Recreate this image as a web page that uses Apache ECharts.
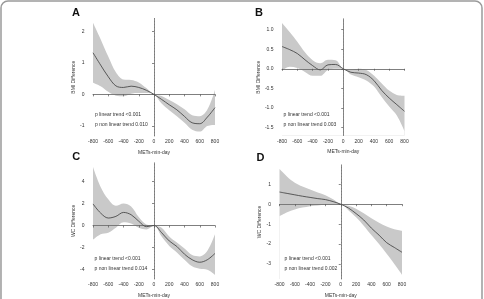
<!DOCTYPE html>
<html>
<head>
<meta charset="utf-8">
<script src="https://cdn.jsdelivr.net/npm/echarts@6/dist/echarts.min.js"></script>
<style>
html, body { margin: 0; padding: 0; background: #fff; }
#main { width: 484px; height: 299px; }
</style>
</head>
<body>
<div id="main"></div>
<script>
// METs-min-day grid, same for all four panels
const xs = [-800, -700, -600, -500, -400, -300, -200, -100, 0, 100, 200, 300, 400, 500, 600, 700, 800];

// A: BMI difference
const aFit = [1.32, 0.93, 0.56, 0.27, 0.22, 0.26, 0.22, 0.13, 0, -0.16, -0.33, -0.49, -0.7, -0.9, -0.93, -0.72, -0.42];
const aLow = [0.37, 0.26, 0.08, -0.04, -0.06, 0.02, 0.04, 0.04, 0, -0.29, -0.5, -0.69, -0.9, -1.12, -1.18, -1.0, -0.97];
const aUp = [2.27, 1.75, 1.2, 0.7, 0.47, 0.46, 0.38, 0.2, 0, -0.05, -0.18, -0.31, -0.47, -0.66, -0.69, -0.48, 0.14];

// B: BMI difference
const bFit = [0.57, 0.49, 0.39, 0.23, 0.08, -0.03, 0.1, 0.11, 0, -0.09, -0.11, -0.15, -0.3, -0.55, -0.75, -0.92, -1.09];
const bLow = [-0.05, 0.05, 0.02, -0.08, -0.18, -0.18, -0.03, 0.0, 0, -0.15, -0.22, -0.3, -0.45, -0.72, -0.97, -1.2, -1.6];
const bUp = [1.17, 0.94, 0.69, 0.42, 0.22, 0.14, 0.23, 0.22, 0, -0.03, 0.0, -0.03, -0.17, -0.37, -0.56, -0.67, -0.69];

// C: WC difference
const cFit = [1.96, 1.13, 0.68, 0.83, 1.19, 0.98, 0.39, -0.1, 0, -0.65, -1.4, -1.9, -2.6, -3.1, -3.33, -3.1, -2.53];
const cLow = [-1.3, -0.8, -0.65, -0.2, 0.3, 0.18, -0.2, -0.36, 0, -1.0, -1.85, -2.44, -3.1, -3.7, -3.93, -4.0, -4.46];
const cUp = [5.3, 3.5, 2.38, 1.79, 2.0, 1.73, 0.77, 0.1, 0, -0.2, -1.0, -1.55, -2.08, -2.68, -2.8, -2.29, -0.8];

// D: WC difference
const dFit = [0.61, 0.54, 0.47, 0.4, 0.34, 0.28, 0.23, 0.13, 0, -0.19, -0.47, -0.79, -1.2, -1.55, -1.93, -2.17, -2.41];
const dLow = [-0.6, -0.4, -0.26, -0.17, -0.1, -0.06, -0.03, -0.01, 0, -0.3, -0.66, -1.08, -1.55, -2.0, -2.49, -3.0, -3.54];
const dUp = [1.76, 1.38, 1.08, 0.89, 0.74, 0.59, 0.45, 0.25, 0, -0.08, -0.23, -0.46, -0.71, -0.93, -1.12, -1.25, -1.33];

const yTicksA = [-1, 0, 1, 2];
const yTicksB = [-1.5, -1.0, -0.5, 0.0, 0.5, 1.0];
const yTicksC = [-4, -2, 0, 2, 4];
const yTicksD = [-3, -2, -1, 0, 1, 2];

const FONT = 'Liberation Sans';
const chart = echarts.init(document.getElementById('main'), null, { renderer: 'canvas' });

const panels = [
  { tag: 'A', fit: aFit, low: aLow, up: aUp, ticks: yTicksA, yName: 'BMI Difference', fmt: v => String(v),
    grid: { left: 93, top: 18.4, width: 122, height: 117.6 }, yMin: -1.32, yMax: 2.41,
    label: [76, 13.3], p: [95, 114.3], pv: 'p non linear trend 0.010' },
  { tag: 'B', fit: bFit, low: bLow, up: bUp, ticks: yTicksB, yName: 'BMI Difference', fmt: v => v.toFixed(1),
    grid: { left: 282, top: 18.8, width: 122.5, height: 116.7 }, yMin: -1.71, yMax: 1.28,
    label: [259, 12.5], p: [283.5, 114.3], pv: 'p non linear trend 0.003' },
  { tag: 'C', fit: cFit, low: cLow, up: cUp, ticks: yTicksC, yName: 'WC Difference', fmt: v => String(v),
    grid: { left: 93, top: 162.8, width: 122, height: 117.6 }, yMin: -4.85, yMax: 5.69,
    label: [76.3, 157.3], p: [94.5, 259], pv: 'p non linear trend 0.014' },
  { tag: 'D', fit: dFit, low: dLow, up: dUp, ticks: yTicksD, yName: 'WC Difference', fmt: v => String(v),
    grid: { left: 279.5, top: 164.9, width: 122.5, height: 117.9 }, yMin: -3.75, yMax: 1.97,
    label: [260.5, 157.5], p: [284.5, 259], pv: 'p non linear trend 0.002' }
];

const axisColor = '#555';
const SMOOTH = 0.35;
const grids = [], xAxes = [], yAxes = [], series = [], graphics = [];

// outer rounded frame
graphics.push({
  type: 'rect', shape: { x: 1, y: 1, width: 481, height: 330, r: 7 }, z: 100,
  style: { fill: 'none', stroke: '#9a9a9a', lineWidth: 1.5 }, silent: true
});

panels.forEach((p, i) => {
  grids.push(Object.assign({ containLabel: false }, p.grid));
  xAxes.push({
    type: 'value', gridIndex: i, min: -800, max: 800, interval: 200, z: 10,
    name: 'METs-min-day', nameLocation: 'middle', nameGap: 14,
    nameTextStyle: { fontFamily: FONT, fontSize: 5, color: '#333' },
    axisLine: { lineStyle: { color: axisColor, width: 0.7 } },
    axisTick: { length: 2, lineStyle: { color: axisColor, width: 0.7 } },
    axisLabel: { fontFamily: FONT, fontSize: 5, color: '#333', margin: 3.5 },
    splitLine: { show: false }
  });
  yAxes.push({
    type: 'value', gridIndex: i, min: p.yMin, max: p.yMax, offset: 5, z: 10,
    name: p.yName, nameLocation: 'middle', nameGap: 12, nameRotate: 90,
    nameTextStyle: { fontFamily: FONT, fontSize: 5, color: '#333' },
    axisLine: { show: true, lineStyle: { color: axisColor, width: 0.7 } },
    axisTick: { show: true, length: 2, customValues: p.ticks, lineStyle: { color: axisColor, width: 0.7 } },
    axisLabel: { fontFamily: FONT, fontSize: 5, color: '#333', margin: 3.5, customValues: p.ticks, formatter: p.fmt },
    splitLine: { show: false }
  });

  const upPts = xs.map((x, k) => [x, p.up[k]]);
  const lowPts = xs.map((x, k) => [x, p.low[k]]);
  const fitPts = xs.map((x, k) => [x, p.fit[k]]);

  // confidence band: gray area under the upper bound, then white area under the lower bound
  series.push({
    type: 'line', xAxisIndex: i, yAxisIndex: i, data: upPts, z: 2,
    smooth: SMOOTH, symbol: 'none', silent: true, lineStyle: { opacity: 0 },
    areaStyle: { color: '#c9c9c9', opacity: 1, origin: 'start' }
  });
  series.push({
    type: 'line', xAxisIndex: i, yAxisIndex: i, data: lowPts, z: 3,
    smooth: SMOOTH, symbol: 'none', silent: true, lineStyle: { opacity: 0 },
    areaStyle: { color: '#ffffff', opacity: 1, origin: 'start' }
  });
  series.push({
    type: 'line', xAxisIndex: i, yAxisIndex: i, data: fitPts, smooth: SMOOTH, symbol: 'none', silent: true,
    lineStyle: { color: '#3a3a3a', width: 0.8 }, z: 5,
    markLine: {
      silent: true, symbol: 'none', label: { show: false },
      data: [
        { yAxis: 0, lineStyle: { color: '#d2d2d2', type: 'solid', width: 0.7 } },
        { xAxis: 0, lineStyle: { color: '#aaaaaa', type: [1, 2], width: 0.6 } }
      ]
    }
  });

  graphics.push({
    type: 'text', x: p.label[0], y: p.label[1], silent: true, z: 100,
    style: { text: p.tag, font: 'bold 11px ' + FONT, fill: '#111', align: 'center', verticalAlign: 'middle' }
  });
  graphics.push({
    type: 'text', x: p.p[0], y: p.p[1], silent: true, z: 100,
    style: { text: 'p linear trend <0.001', font: '5px ' + FONT, fill: '#333', align: 'left', verticalAlign: 'middle' }
  });
  graphics.push({
    type: 'text', x: p.p[0], y: p.p[1] + 10, silent: true, z: 100,
    style: { text: p.pv, font: '5px ' + FONT, fill: '#333', align: 'left', verticalAlign: 'middle' }
  });
});

chart.setOption({
  animation: false,
  backgroundColor: '#fff',
  grid: grids,
  xAxis: xAxes,
  yAxis: yAxes,
  series: series,
  graphic: graphics
});
</script>
</body>
</html>
